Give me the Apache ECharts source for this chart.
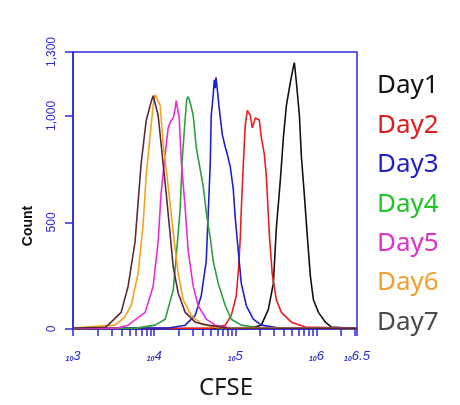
<!DOCTYPE html>
<html>
<head>
<meta charset="utf-8">
<script src="https://cdn.jsdelivr.net/npm/echarts@6/dist/echarts.min.js"></script>
<style>
  html, body { margin: 0; padding: 0; background: #fff; }
  #main { width: 460px; height: 405px; }
</style>
</head>
<body>
<div id="main"></div>
<script>
// CFSE intensity (x) and cell count (y) for each day
var day1 = [[1000, 2], [150000, 3], [209400, 18], [255300, 91], [294400, 214], [320700, 474], [359700, 702],
    [391700, 899], [426600, 1049], [477500, 1158], [520000, 1231], [534600, 1250], [566200, 1158],
    [616600, 1003], [653100, 807], [711200, 625], [774500, 429], [843300, 246], [918400, 137],
    [1059000, 78], [1291000, 32], [1531000, 9], [3162000, 2]];
var day2 = [[1000, 3], [50000, 4], [75340, 18], [89310, 64], [102800, 155], [110000, 290], [115300, 430],
    [118600, 560], [125600, 775], [132800, 958], [140600, 1026], [153100, 1003], [162200, 944],
    [176600, 990], [197700, 981], [209400, 899], [228000, 821], [241500, 716], [263000, 442],
    [285000, 260], [320700, 137], [369800, 78], [491000, 32], [731100, 9], [3162000, 3]];
var day3 = [[1000, 4], [15000, 5], [24150, 18], [32060, 64], [38020, 155], [43850, 319], [46450, 547],
    [49110, 775], [50570, 1003], [53500, 1100], [55080, 1170], [56620, 1130], [57800, 1181], [59980, 1127],
    [63390, 1035], [69180, 912], [75340, 853], [79620, 821], [86700, 762], [94410, 657],
    [100000, 520], [108900, 365], [118600, 214], [136800, 109], [166700, 46], [209400, 18],
    [350000, 5], [3162000, 3]];
var day4 = [[1000, 3], [6000, 4], [10290, 18], [13670, 46], [17170, 182], [18700, 338], [20950, 566],
    [22180, 794], [24150, 990], [25300, 1080], [26300, 1090], [27500, 1070], [30290, 1003], [33020, 853],
    [36980, 748], [40270, 670], [43850, 547], [49110, 429], [53460, 319], [61660, 214],
    [75340, 109], [89310, 46], [118600, 18], [200000, 5], [3162000, 2]];
var day5 = [[1000, 3], [3500, 5], [4780, 18], [7740, 78], [9730, 201], [11200, 410], [12190, 639],
    [13670, 821], [14890, 944], [16000, 975], [17170, 990], [18170, 1035], [18700, 1072], [20360, 990],
    [21540, 794], [24150, 566], [26300, 365], [30290, 201], [34920, 109], [43850, 46],
    [56620, 18], [90000, 5], [3162000, 2]];
var day6 = [[1000, 4], [3300, 18], [4300, 55], [5200, 109], [6340, 260], [7310, 488], [7960, 716],
    [8930, 912], [9730, 1049], [10300, 1100], [10590, 1095], [11860, 1049], [12910, 867],
    [14890, 670], [17170, 456], [19780, 260], [22820, 137], [28640, 64], [38020, 23],
    [60000, 6], [3162000, 2]];
var day7 = [[1000, 5], [2480, 8], [2700, 18], [3920, 78], [4780, 201], [5820, 410], [6340, 593],
    [6910, 775], [7960, 976], [9190, 1067], [9730, 1095], [11200, 1003], [12190, 867],
    [14060, 639], [15770, 442], [17170, 292], [19780, 169], [24150, 78], [32060, 32],
    [46450, 18], [80000, 5], [3162000, 3]];

var dayNames = ['Day1', 'Day2', 'Day3', 'Day4', 'Day5', 'Day6', 'Day7'];
var dayData = [day1, day2, day3, day4, day5, day6, day7];
var lineColors = ['#111111', '#ee1c1c', '#1f1fd2', '#2f9e3f', '#ee2ad8', '#f7a21b', '#5a2a3c'];
var legendColors = ['#111111', '#e21b1b', '#1f1fc8', '#22c42a', '#e030c8', '#f0a030', '#4a4a4a'];

// axis ticks
var xLabelValues = [1000, 10000, 100000, 1000000, 3162277];
var xLabelExps = ['3', '4', '5', '6', '6.5'];
var xTickValues = [1000, 2000, 3000, 4000, 5000, 6000, 7000, 8000, 9000,
    10000, 20000, 30000, 40000, 50000, 60000, 70000, 80000, 90000,
    100000, 200000, 300000, 400000, 500000, 600000, 700000, 800000, 900000,
    1000000, 2000000, 3000000, 3162277];
var yTickValues = [0, 500, 1000, 1300];

var axisBlue = '#2a2ad6';

var myChart = echarts.init(document.getElementById('main'));

var series = dayNames.map(function (name, i) {
    return {
        name: name,
        type: 'line',
        data: dayData[i],
        showSymbol: false,
        animation: false,
        lineStyle: { color: lineColors[i], width: 1.6 },
        itemStyle: { color: lineColors[i] }
    };
});

var option = {
    backgroundColor: '#fff',
    animation: false,
    grid: {
        left: 73,
        top: 52,
        right: 103,
        bottom: 68,
        show: true,
        borderColor: axisBlue,
        borderWidth: 1.5
    },
    legend: {
        orient: 'vertical',
        left: 367,
        top: 66,
        icon: 'none',
        itemWidth: 0,
        itemHeight: 10,
        itemGap: 9.4,
        selectedMode: false,
        textStyle: { fontFamily: 'Noto Sans', fontSize: 26, lineHeight: 30 },
        data: dayNames.map(function (name, i) {
            return { name: name, textStyle: { color: legendColors[i] } };
        })
    },
    xAxis: {
        type: 'log',
        logBase: 10,
        min: 1000,
        max: 3162277.66,
        name: 'CFSE',
        nameLocation: 'middle',
        nameGap: 47,
        nameTextStyle: { fontFamily: 'Noto Sans', fontSize: 24, color: '#1a1a1a', padding: [0, 0, 0, 22] },
        axisLine: { lineStyle: { color: axisBlue, width: 1.5 } },
        axisTick: { customValues: xTickValues, length: 7, lineStyle: { color: axisBlue, width: 1.5 } },
        axisLabel: {
            customValues: xLabelValues,
            margin: 20,
            color: axisBlue,
            fontStyle: 'italic',
            formatter: function (v) {
                var idx = xLabelValues.indexOf(v);
                return '{b|10}{e|' + xLabelExps[idx] + '}';
            },
            rich: {
                b: { fontSize: 7, color: axisBlue, fontWeight: 'bold', verticalAlign: 'bottom', padding: [7, 0, 0, 0] },
                e: { fontSize: 13, color: axisBlue, fontFamily: 'Liberation Sans' }
            }
        },
        splitLine: { show: false }
    },
    yAxis: {
        type: 'value',
        min: 0,
        max: 1300,
        axisLine: { show: true, lineStyle: { color: axisBlue, width: 1.5 } },
        axisTick: { show: true, customValues: yTickValues, length: 8, lineStyle: { color: axisBlue, width: 1.5 } },
        axisLabel: {
            customValues: yTickValues,
            rotate: 90,
            margin: 15,
            color: axisBlue,
            fontSize: 12,
            fontFamily: 'Liberation Sans',
            formatter: function (v) {
                return String(v).replace(/\B(?=(\d{3})+(?!\d))/g, ',');
            }
        },
        splitLine: { show: false }
    },
    graphic: [
        {
            type: 'text',
            x: 28,
            y: 226,
            rotation: Math.PI / 2,
            style: {
                text: 'Count',
                font: 'bold 14px Liberation Sans',
                fill: '#111',
                align: 'center',
                verticalAlign: 'middle'
            }
        }
    ],
    series: series
};

myChart.setOption(option);
</script>
</body>
</html>
